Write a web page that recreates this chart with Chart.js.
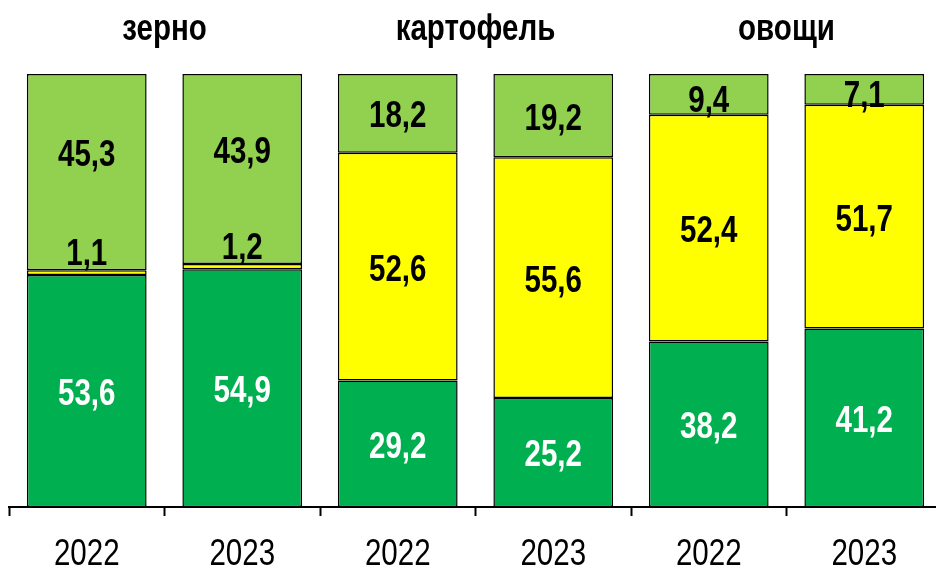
<!DOCTYPE html>
<html>
<head>
<meta charset="utf-8">
<title>зерно, картофель, овощи</title>
<script src="https://cdn.jsdelivr.net/npm/chart.js"></script>
<style>
    html, body { margin: 0; padding: 0; background: #fff; overflow: hidden; }
    #wrap { position: relative; width: 942px; height: 568px; }
</style>
</head>
<body>
<div id="wrap"><canvas id="chart"></canvas></div>
<script>
// categories
const years = ['2022', '2023', '2022', '2023', '2022', '2023'];
const groups = ['зерно', 'картофель', 'овощи'];

// series values, % (bottom to top)
const darkPart = [53.6, 54.9, 29.2, 25.2, 38.2, 41.2];
const yellowPart = [1.1, 1.2, 52.6, 55.6, 52.4, 51.7];
const lightPart = [45.3, 43.9, 18.2, 19.2, 9.4, 7.1];

const FONT = "'Liberation Sans', Arial, sans-serif";
const NARROW = 0.82; // no Arial Narrow installed, squeeze the text instead

const datasets = [
    { data: darkPart, backgroundColor: '#00B050', labelColor: '#fff' },
    { data: yellowPart, backgroundColor: '#FFFF00', labelColor: '#000' },
    { data: lightPart, backgroundColor: '#92D050', labelColor: '#000' }
].map(d => Object.assign(d, {
    borderColor: '#000',
    borderWidth: 1.5,
    borderSkipped: false,
    categoryPercentage: 1,
    barPercentage: 0.77
}));

function narrowText(ctx, txt, x, y) {
    ctx.save();
    ctx.translate(x, y);
    ctx.scale(NARROW, 1);
    ctx.fillText(txt, 0, 0);
    ctx.restore();
}

// value labels inside segments
const valueLabels = {
    id: 'valueLabels',
    afterDatasetsDraw(chart) {
        const ctx = chart.ctx;
        ctx.save();
        ctx.font = 'bold 36px ' + FONT;
        ctx.textAlign = 'center';
        ctx.textBaseline = 'alphabetic';
        chart.data.datasets.forEach((ds, di) => {
            const meta = chart.getDatasetMeta(di);
            meta.data.forEach((bar, i) => {
                const v = ds.data[i];
                const txt = v.toFixed(1).replace('.', ',');
                ctx.fillStyle = ds.labelColor;
                if (v < 3) {
                    // too thin: label sits just above the segment
                    narrowText(ctx, txt, bar.x, bar.y - 5);
                    return;
                }
                let y = (bar.y + bar.base) / 2 + 14;
                const prev = di > 0 ? chart.data.datasets[di - 1].data[i] : 100;
                if (prev < 3) y -= 20;
                if (Math.abs(bar.base - bar.y) < 50) y += 4;
                narrowText(ctx, txt, bar.x, y);
            });
        });
        ctx.restore();
    }
};

// group titles above each pair of bars, year labels under the axis
const textLayer = {
    id: 'textLayer',
    afterDraw(chart) {
        const ctx = chart.ctx;
        const x = chart.scales.x;
        ctx.save();
        ctx.fillStyle = '#000';
        ctx.textAlign = 'center';
        ctx.textBaseline = 'alphabetic';
        ctx.font = 'bold 36px ' + FONT;
        groups.forEach((g, k) => {
            const cx = (x.getPixelForValue(2 * k) + x.getPixelForValue(2 * k + 1)) / 2;
            narrowText(ctx, g, cx, 40);
        });
        ctx.font = '36px ' + FONT;
        years.forEach((y, i) => {
            narrowText(ctx, y, x.getPixelForValue(i), x.bottom - 3);
        });
        ctx.restore();
    }
};

new Chart(document.getElementById('chart'), {
    type: 'bar',
    data: { labels: years, datasets: datasets },
    plugins: [valueLabels, textLayer],
    options: {
        responsive: true,
        maintainAspectRatio: false,
        animation: false,
        layout: { padding: { left: 9, top: 74, right: 0, bottom: 0 } },
        plugins: { legend: { display: false }, tooltip: { enabled: false } },
        scales: {
            x: {
                stacked: true,
                afterFit(scale) { scale.height = 61; },
                grid: {
                    display: true,
                    offset: true,
                    drawOnChartArea: false,
                    drawTicks: true,
                    tickLength: 9,
                    tickWidth: 2,
                    tickColor: '#000'
                },
                border: { display: true, color: '#000', width: 2 },
                ticks: {
                    color: 'rgba(0,0,0,0)',
                    padding: 0,
                    maxRotation: 0,
                    font: { family: FONT, size: 36, lineHeight: 1 }
                }
            },
            y: {
                stacked: true,
                display: false,
                min: 0,
                max: 100
            }
        }
    }
});
</script>
</body>
</html>
